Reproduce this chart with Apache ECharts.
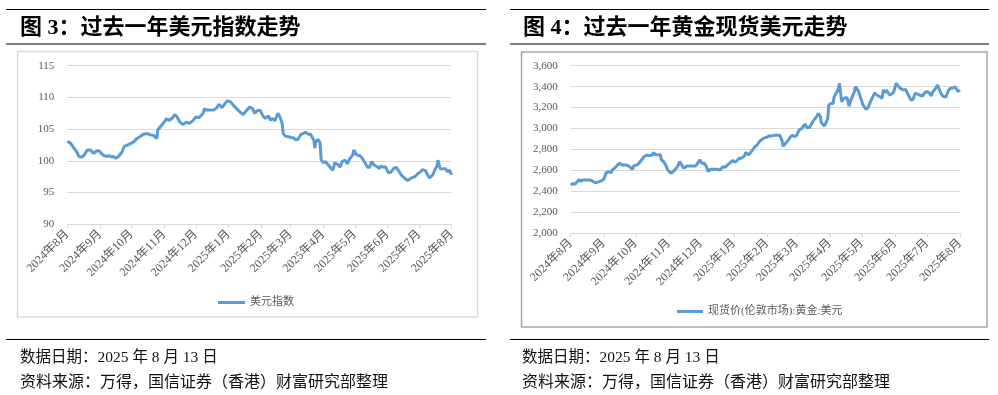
<!DOCTYPE html>
<html><head><meta charset="utf-8">
<script src="https://cdn.jsdelivr.net/npm/echarts@6/dist/echarts.min.js"></script>
<style>html,body{margin:0;padding:0;background:#fff}#c{width:998px;height:395px}</style>
</head><body><div id="c"></div>
<script>
// ---------- data ----------
const startDate = '2024-08-13';
const endDate = '2025-08-13';
const monthTickLabels = ['2024年8月','2024年9月','2024年10月','2024年11月','2024年12月','2025年1月','2025年2月','2025年3月','2025年4月','2025年5月','2025年6月','2025年7月','2025年8月'];

const usdName = '美元指数';
const usdDates = ['2024-08-13','2024-08-16','2024-08-19','2024-08-22','2024-08-24','2024-08-27','2024-08-29','2024-09-01','2024-09-04','2024-09-07','2024-09-10','2024-09-12','2024-09-16','2024-09-19','2024-09-22','2024-09-24','2024-09-26','2024-09-28','2024-09-30','2024-10-04','2024-10-06','2024-10-08','2024-10-12','2024-10-15','2024-10-18','2024-10-21','2024-10-24','2024-10-28','2024-10-31','2024-11-03','2024-11-06','2024-11-07','2024-11-09','2024-11-12','2024-11-15','2024-11-18','2024-11-21','2024-11-23','2024-11-25','2024-11-28','2024-12-01','2024-12-04','2024-12-07','2024-12-10','2024-12-13','2024-12-16','2024-12-20','2024-12-21','2024-12-23','2024-12-26','2024-12-30','2025-01-02','2025-01-04','2025-01-07','2025-01-10','2025-01-12','2025-01-15','2025-01-18','2025-01-21','2025-01-24','2025-01-27','2025-01-30','2025-02-02','2025-02-05','2025-02-07','2025-02-09','2025-02-12','2025-02-13','2025-02-15','2025-02-17','2025-02-20','2025-02-22','2025-02-24','2025-02-26','2025-02-27','2025-03-01','2025-03-03','2025-03-05','2025-03-06','2025-03-08','2025-03-11','2025-03-13','2025-03-16','2025-03-18','2025-03-20','2025-03-23','2025-03-25','2025-03-27','2025-03-30','2025-04-01','2025-04-04','2025-04-05','2025-04-06','2025-04-08','2025-04-10','2025-04-11','2025-04-13','2025-04-15','2025-04-17','2025-04-19','2025-04-22','2025-04-24','2025-04-27','2025-04-29','2025-05-01','2025-05-04','2025-05-06','2025-05-08','2025-05-11','2025-05-12','2025-05-15','2025-05-18','2025-05-20','2025-05-23','2025-05-25','2025-05-27','2025-05-29','2025-05-31','2025-06-03','2025-06-05','2025-06-07','2025-06-09','2025-06-11','2025-06-14','2025-06-16','2025-06-19','2025-06-21','2025-06-23','2025-06-26','2025-06-29','2025-07-02','2025-07-04','2025-07-07','2025-07-09','2025-07-12','2025-07-14','2025-07-16','2025-07-19','2025-07-21','2025-07-23','2025-07-26','2025-07-28','2025-07-30','2025-07-31','2025-08-02','2025-08-04','2025-08-07','2025-08-09','2025-08-11','2025-08-12','2025-08-13'];
const usdValues = [103.1,102.8,102.1,101.4,100.7,100.6,100.9,101.7,101.7,101.2,101.6,101.6,100.9,100.7,100.8,100.6,100.7,100.4,100.6,101.4,102.3,102.4,102.7,103.0,103.5,103.8,104.2,104.3,104.1,104.0,103.5,104.9,105.3,105.9,106.6,106.4,106.8,107.3,107.0,106.1,105.7,106.1,105.9,106.3,106.9,106.8,107.5,108.2,108.0,108.0,108.0,108.4,108.9,108.4,109.1,109.5,109.3,108.7,108.2,107.7,107.3,107.9,108.5,108.2,107.5,107.9,108.0,107.9,107.0,106.7,107.1,106.4,106.7,106.3,106.5,107.5,106.9,105.9,104.3,103.9,103.8,103.7,103.6,103.3,103.4,104.2,104.3,104.5,104.2,104.2,103.3,102.0,103.0,103.4,102.9,100.2,99.7,99.9,99.5,99.1,98.5,99.7,99.4,99.0,99.9,100.1,99.5,100.3,100.9,101.7,100.9,100.8,100.4,99.6,99.0,99.0,99.9,99.4,99.1,98.8,99.2,99.0,99.1,98.1,98.2,98.8,99.0,98.6,97.8,97.3,96.9,97.1,97.4,97.5,98.0,98.2,98.6,98.5,97.8,97.3,97.8,98.6,99.2,100.1,98.8,98.7,98.8,98.3,98.5,98.6,97.8];

const goldName = '现货价(伦敦市场):黄金:美元';
const goldDates = ['2024-08-13','2024-08-15','2024-08-17','2024-08-19','2024-08-21','2024-08-22','2024-08-24','2024-08-26','2024-08-28','2024-08-31','2024-09-02','2024-09-03','2024-09-05','2024-09-06','2024-09-09','2024-09-11','2024-09-13','2024-09-15','2024-09-17','2024-09-20','2024-09-21','2024-09-24','2024-09-26','2024-09-28','2024-09-30','2024-10-01','2024-10-04','2024-10-06','2024-10-08','2024-10-10','2024-10-11','2024-10-14','2024-10-16','2024-10-19','2024-10-21','2024-10-23','2024-10-26','2024-10-28','2024-10-30','2024-10-31','2024-11-02','2024-11-05','2024-11-06','2024-11-08','2024-11-10','2024-11-12','2024-11-15','2024-11-17','2024-11-20','2024-11-22','2024-11-23','2024-11-25','2024-11-27','2024-11-30','2024-12-03','2024-12-05','2024-12-08','2024-12-10','2024-12-12','2024-12-14','2024-12-16','2024-12-18','2024-12-20','2024-12-22','2024-12-25','2024-12-28','2024-12-31','2025-01-03','2025-01-05','2025-01-07','2025-01-09','2025-01-12','2025-01-14','2025-01-16','2025-01-18','2025-01-20','2025-01-23','2025-01-24','2025-01-27','2025-01-28','2025-01-31','2025-02-02','2025-02-04','2025-02-06','2025-02-08','2025-02-10','2025-02-13','2025-02-15','2025-02-17','2025-02-18','2025-02-21','2025-02-23','2025-02-25','2025-02-27','2025-02-28','2025-03-03','2025-03-05','2025-03-07','2025-03-09','2025-03-11','2025-03-13','2025-03-15','2025-03-18','2025-03-19','2025-03-21','2025-03-22','2025-03-25','2025-03-27','2025-03-29','2025-04-01','2025-04-02','2025-04-04','2025-04-05','2025-04-08','2025-04-09','2025-04-11','2025-04-12','2025-04-14','2025-04-16','2025-04-17','2025-04-19','2025-04-21','2025-04-22','2025-04-24','2025-04-26','2025-04-27','2025-04-29','2025-05-01','2025-05-03','2025-05-06','2025-05-07','2025-05-10','2025-05-12','2025-05-14','2025-05-17','2025-05-19','2025-05-21','2025-05-24','2025-05-25','2025-05-27','2025-05-30','2025-06-01','2025-06-02','2025-06-04','2025-06-05','2025-06-08','2025-06-10','2025-06-12','2025-06-14','2025-06-16','2025-06-18','2025-06-21','2025-06-23','2025-06-26','2025-06-28','2025-06-30','2025-07-02','2025-07-04','2025-07-06','2025-07-09','2025-07-11','2025-07-13','2025-07-15','2025-07-17','2025-07-18','2025-07-21','2025-07-23','2025-07-25','2025-07-27','2025-07-29','2025-07-31','2025-08-02','2025-08-04','2025-08-06','2025-08-08','2025-08-10','2025-08-11','2025-08-13'];
const goldValues = [2461,2477,2467,2493,2515,2493,2509,2509,2509,2509,2502,2493,2483,2502,2493,2502,2515,2573,2589,2579,2605,2630,2653,2669,2653,2669,2653,2643,2630,2611,2643,2653,2669,2707,2733,2746,2742,2746,2771,2749,2749,2749,2701,2685,2653,2605,2573,2589,2621,2653,2685,2653,2621,2643,2643,2643,2643,2669,2701,2669,2669,2643,2589,2611,2611,2611,2605,2637,2630,2653,2669,2695,2679,2695,2717,2717,2739,2771,2749,2758,2803,2829,2845,2877,2893,2909,2918,2931,2928,2921,2937,2937,2937,2890,2832,2864,2890,2921,2937,2921,2937,2985,3001,3024,3043,3011,3011,3049,3081,3119,3145,3119,3055,3024,3011,3097,3225,3240,3240,3304,3336,3384,3432,3256,3288,3279,3298,3215,3279,3352,3400,3352,3288,3225,3183,3202,3256,3320,3343,3320,3304,3288,3368,3343,3368,3320,3330,3352,3432,3406,3384,3368,3374,3311,3272,3279,3336,3330,3320,3311,3343,3352,3343,3311,3343,3384,3416,3362,3320,3304,3304,3362,3384,3384,3400,3374,3352,3368];

const usdAxis = {min: 90, max: 115, step: 5};
const goldAxis = {min: 2000, max: 3600, step: 200};

const texts = {
  title1: '图 3：过去一年美元指数走势',
  title2: '图 4：过去一年黄金现货美元走势',
  date: '数据日期：2025 年 8 月 13 日',
  source: '资料来源：万得，国信证券（香港）财富研究部整理'
};

// ---------- build ----------
function buildDays(s, e) {
  const p = x => x.split('-').map(Number);
  const [ys, ms, ds] = p(s), [ye, me, de] = p(e);
  let t = Date.UTC(ys, ms - 1, ds);
  const te = Date.UTC(ye, me - 1, de);
  const out = [];
  while (t <= te) { out.push(new Date(t).toISOString().slice(0, 10)); t += 86400000; }
  return out;
}
const days = buildDays(startDate, endDate);
const tickDays = days.filter(d => d.endsWith('-13'));
const tickLabelMap = {};
tickDays.forEach((d, i) => { tickLabelMap[d] = monthTickLabels[i]; });
function toSeries(dates, values) {
  const m = {};
  dates.forEach((d, i) => { m[d] = values[i]; });
  return days.map(d => (d in m ? m[d] : null));
}
const isTick = (i, v) => v.endsWith('-13');

const SERIF = "'Liberation Serif','Noto Sans CJK SC',serif";
const BLUE = '#5B9BD5';
const GRID = '#D9D9D9';
const LABEL = '#595959';

function xAxis(gi) {
  return {
    type: 'category', gridIndex: gi, data: days, boundaryGap: false,
    axisLine: {lineStyle: {color: GRID, width: 1}},
    axisTick: {show: true, interval: isTick, length: 4, lineStyle: {color: GRID}},
    axisLabel: {interval: isTick, rotate: 45, margin: 8, color: LABEL, fontSize: 12,
      fontFamily: SERIF, formatter: v => tickLabelMap[v] || ''},
    splitLine: {show: false}
  };
}
function yAxis(gi, ax, fmt) {
  return {
    type: 'value', gridIndex: gi, min: ax.min, max: ax.max, interval: ax.step,
    axisLine: {show: false}, axisTick: {show: false},
    axisLabel: {color: LABEL, fontSize: 11, fontFamily: SERIF, margin: 13, formatter: fmt},
    splitLine: {lineStyle: {color: GRID, width: 1}}
  };
}

const chart = echarts.init(document.getElementById('c'), null, {renderer: 'canvas'});
chart.setOption({
  animation: false,
  backgroundColor: '#fff',
  grid: [
    {left: 67.3, top: 65.7, width: 384.4, height: 158.6},
    {left: 570.7, top: 65.7, width: 389.3, height: 167.6}
  ],
  xAxis: [xAxis(0), xAxis(1)],
  yAxis: [
    yAxis(0, usdAxis, v => String(v)),
    yAxis(1, goldAxis, v => v.toLocaleString('en-US'))
  ],
  legend: [
    {data: [usdName], left: 213, top: 292, icon: 'rect', itemWidth: 27, itemHeight: 3, itemGap: 4,
      textStyle: {color: LABEL, fontSize: 11, fontFamily: SERIF}},
    {data: [goldName], left: 672, top: 301, icon: 'rect', itemWidth: 26, itemHeight: 3, itemGap: 4,
      textStyle: {color: LABEL, fontSize: 11, fontFamily: SERIF}}
  ],
  series: [
    {name: usdName, type: 'line', xAxisIndex: 0, yAxisIndex: 0, data: toSeries(usdDates, usdValues),
      connectNulls: true, symbol: 'none', showSymbol: false,
      lineStyle: {color: BLUE, width: 3}, itemStyle: {color: BLUE}},
    {name: goldName, type: 'line', xAxisIndex: 1, yAxisIndex: 1, data: toSeries(goldDates, goldValues),
      connectNulls: true, symbol: 'none', showSymbol: false,
      lineStyle: {color: BLUE, width: 3}, itemStyle: {color: BLUE}}
  ],
  graphic: [
    // left panel frame
    {type: 'line', shape: {x1: 6, y1: 9.5, x2: 486, y2: 9.5}, style: {stroke: '#000', lineWidth: 1}},
    {type: 'line', shape: {x1: 6, y1: 44, x2: 486, y2: 44}, style: {stroke: '#000', lineWidth: 1}},
    {type: 'rect', shape: {x: 17.5, y: 51.5, width: 460, height: 265.5}, style: {fill: 'none', stroke: '#D9D9D9', lineWidth: 1.5}, z: -1},
    {type: 'line', shape: {x1: 6, y1: 339.5, x2: 486, y2: 339.5}, style: {stroke: '#000', lineWidth: 1}},
    {type: 'text', style: {text: texts.title1, x: 20, y: 28, textVerticalAlign: 'middle', fill: '#000',
      font: "bold 22px 'Liberation Serif','Noto Sans CJK SC',serif"}},
    {type: 'text', style: {text: texts.date, x: 20, y: 358, textVerticalAlign: 'middle', fill: '#111',
      font: "15.5px 'Liberation Serif','Noto Sans CJK SC',serif"}},
    {type: 'text', style: {text: texts.source, x: 20, y: 383, textVerticalAlign: 'middle', fill: '#111',
      font: "16px 'Liberation Serif','Noto Sans CJK SC',serif"}},
    // right panel frame
    {type: 'line', shape: {x1: 510, y1: 9.5, x2: 989, y2: 9.5}, style: {stroke: '#000', lineWidth: 1}},
    {type: 'line', shape: {x1: 510, y1: 44, x2: 989, y2: 44}, style: {stroke: '#000', lineWidth: 1}},
    {type: 'rect', shape: {x: 521.5, y: 52, width: 465.5, height: 275}, style: {fill: 'none', stroke: '#A6A6A6', lineWidth: 1.5}, z: -1},
    {type: 'line', shape: {x1: 510, y1: 339.5, x2: 989, y2: 339.5}, style: {stroke: '#000', lineWidth: 1}},
    {type: 'text', style: {text: texts.title2, x: 523, y: 28, textVerticalAlign: 'middle', fill: '#000',
      font: "bold 22px 'Liberation Serif','Noto Sans CJK SC',serif"}},
    {type: 'text', style: {text: texts.date, x: 522, y: 358, textVerticalAlign: 'middle', fill: '#111',
      font: "15.5px 'Liberation Serif','Noto Sans CJK SC',serif"}},
    {type: 'text', style: {text: texts.source, x: 522, y: 383, textVerticalAlign: 'middle', fill: '#111',
      font: "16px 'Liberation Serif','Noto Sans CJK SC',serif"}}
  ]
});
</script></body></html>
